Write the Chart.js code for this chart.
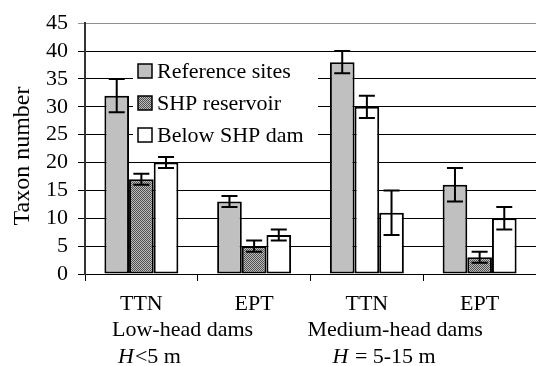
<!DOCTYPE html>
<html>
<head>
<meta charset="utf-8">
<script src="https://cdn.jsdelivr.net/npm/chart.js@4/dist/chart.umd.min.js"></script>
<style>
  html, body { margin: 0; padding: 0; background: #fff; }
  #wrap { width: 536px; height: 366px; }
  .fontwarm { font-family: 'Liberation Serif'; position: absolute; left: -999px; top: 0; }
</style>
</head>
<body>
<span class="fontwarm">Taxon <i>H</i></span>
<div id="wrap"><canvas id="chart"></canvas></div>
<script>
// data
const categories = ['TTN', 'EPT', 'TTN', 'EPT'];
const groupLabels = ['Low-head dams', 'Medium-head dams'];
const groupSubs = [['H', '<5 m'], ['H', ' = 5-15 m']];
const seriesNames = ['Reference sites', 'SHP reservoir', 'Below SHP dam'];
const referenceSites = [32, 13, 38, 16];
const referenceErr = [3, 1, 2, 3];
const shpReservoir = [17, 5, 30, 3];
const reservoirErr = [1, 1, 2, 1];
const belowDam = [20, 7, 11, 10];
const belowErr = [1, 1, 4, 2];
const yTicks = [0, 5, 10, 15, 20, 25, 30, 35, 40, 45];
const yTitle = 'Taxon number';

const serif = "'Liberation Serif', 'Times New Roman', serif";

// hatch pattern for the reservoir bars
const makeHatch = () => {
  const c = document.createElement('canvas');
  c.width = 2; c.height = 2;
  const g = c.getContext('2d');
  g.fillStyle = '#bdbdbd'; g.fillRect(0, 0, 2, 2);
  g.fillStyle = '#4f4f4f'; g.fillRect(0, 0, 1, 1); g.fillRect(1, 1, 1, 1);
  return g.createPattern(c, 'repeat');
};
const hatch = makeHatch();

const errors = [referenceErr, reservoirErr, belowErr];

// error bars
const errorBars = {
  id: 'errorBars',
  afterDatasetsDraw(chart) {
    const { ctx, scales: { y } } = chart;
    ctx.save();
    ctx.strokeStyle = '#000';
    ctx.lineWidth = 2;
    chart.data.datasets.forEach((ds, di) => {
      const meta = chart.getDatasetMeta(di);
      meta.data.forEach((bar, i) => {
        const v = ds.data[i], e = errors[di][i];
        const top = y.getPixelForValue(v + e), bot = y.getPixelForValue(v - e);
        ctx.beginPath();
        ctx.moveTo(bar.x, top); ctx.lineTo(bar.x, bot);
        ctx.moveTo(bar.x - 8, top); ctx.lineTo(bar.x + 8, top);
        ctx.moveTo(bar.x - 8, bot); ctx.lineTo(bar.x + 8, bot);
        ctx.stroke();
      });
    });
    ctx.restore();
  }
};

// legend inside the plot, y title and group labels under the axis
const extras = {
  id: 'extras',
  afterDraw(chart) {
    const { ctx, scales: { x } } = chart;
    ctx.save();
    ctx.fillStyle = '#fff';
    ctx.fillRect(133, 55, 185, 93);
    ctx.font = '22px ' + serif;
    ctx.textBaseline = 'middle';
    chart.data.datasets.forEach((ds, i) => {
      const yy = 71 + i * 32;
      ctx.fillStyle = ds.legendFill;
      ctx.fillRect(138, yy - 7, 14, 14);
      ctx.strokeStyle = '#000';
      ctx.lineWidth = 1.5;
      ctx.strokeRect(138, yy - 7, 14, 14);
      ctx.fillStyle = '#000';
      ctx.fillText(ds.label, 157, yy + 1);
    });

    // y-akselin otsikko
    ctx.save();
    ctx.translate(23, 156);
    ctx.rotate(-Math.PI / 2);
    ctx.textAlign = 'center';
    ctx.font = '24px ' + serif;
    ctx.fillText(yTitle, 0, 0);
    ctx.restore();

    // group titles
    const step = x.getPixelForValue(1) - x.getPixelForValue(0);
    const shifts = [[27, 33], [-3, 22]];
    ctx.textBaseline = 'alphabetic';
    groupLabels.forEach((lab, g) => {
      const start = x.getPixelForValue(g * 2) - step / 2;
      ctx.font = '22px ' + serif;
      ctx.fillText(lab, start + shifts[g][0], 336);
      let px = start + shifts[g][1];
      ctx.font = 'italic 22px ' + serif;
      ctx.fillText(groupSubs[g][0], px, 363);
      px += ctx.measureText(groupSubs[g][0]).width + 1;
      ctx.font = '22px ' + serif;
      ctx.fillText(groupSubs[g][1], px, 363);
    });
    ctx.restore();
  }
};

const draw = () => {
  const ctx = document.getElementById('chart').getContext('2d');
  new Chart(ctx, {
    type: 'bar',
    data: {
      labels: categories,
      datasets: [
        { label: seriesNames[0], data: referenceSites, backgroundColor: '#c0c0c0', legendFill: '#c0c0c0' },
        { label: seriesNames[1], data: shpReservoir, backgroundColor: [hatch, hatch, '#fff', hatch], legendFill: hatch },
        { label: seriesNames[2], data: belowDam, backgroundColor: '#fff', legendFill: '#fff' }
      ].map(d => Object.assign(d, {
        borderColor: '#000', borderWidth: 2, borderSkipped: false,
        categoryPercentage: 0.656, barPercentage: 1
      }))
    },
    options: {
      responsive: true,
      maintainAspectRatio: false,
      animation: false,
      layout: { padding: { top: 19, right: 0, left: 0, bottom: 0 } },
      plugins: { legend: { display: false }, tooltip: { enabled: false } },
      scales: {
        x: {
          offset: true,
          grid: { offset: true, drawOnChartArea: false, tickLength: 7, color: '#000' },
          border: { color: '#000', width: 1 },
          ticks: { color: '#000', font: { family: serif, size: 22 }, padding: 10, maxRotation: 0 },
          afterFit(s) { s.height = 92; }
        },
        y: {
          min: 0, max: 45,
          afterBuildTicks(s) { s.ticks = yTicks.map(v => ({ value: v })); },
          ticks: { autoSkip: false, color: '#000', font: { family: serif, size: 22 }, padding: 10 },
          grid: {
            tickLength: 7,
            color: c => c.tick && c.tick.value === 45 ? '#909090' : '#000'
          },
          border: { color: '#333', width: 2 },
          afterFit(s) { s.width = 85; }
        }
      }
    },
    plugins: [errorBars, extras]
  });
};

if (document.fonts && document.fonts.load) {
  Promise.all([
    document.fonts.load("22px 'Liberation Serif'"),
    document.fonts.load("italic 22px 'Liberation Serif'")
  ]).then(draw, draw);
} else {
  draw();
}
</script>
</body>
</html>
